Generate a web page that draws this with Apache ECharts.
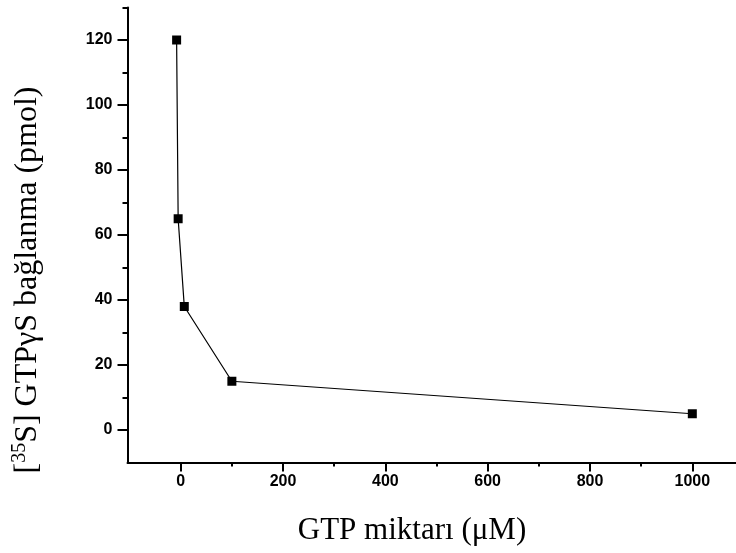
<!DOCTYPE html>
<html>
<head>
<meta charset="utf-8">
<script src="https://cdn.jsdelivr.net/npm/echarts@6/dist/echarts.min.js"></script>
<style>
  html, body { margin: 0; padding: 0; background: #fff; }
  #chart { width: 736px; height: 553px; }
</style>
</head>
<body>
<div id="chart"></div>
<script>
// GTP concentration (µM) and bound [35S]GTPγS (pmol)
const gtpAmount = [-8, -5, 7, 100, 1000];
const binding = [120, 65, 38, 15, 5];

// Labelled (major) and unlabelled (minor) tick positions
const xMajorTicks = [0, 200, 400, 600, 800, 1000];
const xMinorTicks = [100, 300, 500, 700, 900];
const yMajorTicks = [0, 20, 40, 60, 80, 100, 120];
const yMinorTicks = [10, 30, 50, 70, 90, 110, 130];

const xTitle = 'GTP miktarı (μM)';
const yTitleSup = '35';
const yTitleRest = 'S] GTPγS bağlanma (pmol)';

const chart = echarts.init(document.getElementById('chart'), null, { renderer: 'canvas' });

const sansLabel = {
  fontFamily: '"Liberation Sans", Arial, sans-serif',
  fontWeight: 'bold',
  fontSize: 16,
  color: '#000',
  formatter: v => String(v)
};
const serif = '"Liberation Serif", "Times New Roman", serif';

const xRange = { min: -104, max: 1085 };
const yRange = { min: -10, max: 130 };

chart.setOption({
  animation: false,
  backgroundColor: '#fff',
  grid: { left: 127.5, top: 7.5, width: 608.3, height: 455 },
  xAxis: [
    {
      type: 'value', ...xRange,
      axisLine: { show: true, onZero: false, lineStyle: { color: '#000', width: 2 } },
      axisTick: { show: true, inside: false, length: 9, customValues: xMajorTicks, lineStyle: { color: '#000', width: 2 } },
      axisLabel: { show: true, margin: 11, customValues: xMajorTicks, ...sansLabel },
      splitLine: { show: false }
    },
    {
      type: 'value', ...xRange, position: 'bottom',
      axisLine: { show: false, onZero: false },
      axisTick: { show: true, inside: false, length: 4, customValues: xMinorTicks, lineStyle: { color: '#000', width: 2 } },
      axisLabel: { show: false },
      splitLine: { show: false }
    }
  ],
  yAxis: [
    {
      type: 'value', ...yRange,
      axisLine: { show: true, onZero: false, lineStyle: { color: '#000', width: 2 } },
      axisTick: { show: true, inside: false, length: 10, customValues: yMajorTicks, lineStyle: { color: '#000', width: 2 } },
      axisLabel: { show: true, margin: 15, customValues: yMajorTicks, ...sansLabel },
      splitLine: { show: false }
    },
    {
      type: 'value', ...yRange, position: 'left',
      axisLine: { show: false, onZero: false },
      axisTick: { show: true, inside: false, length: 5, customValues: yMinorTicks, lineStyle: { color: '#000', width: 2 } },
      axisLabel: { show: false },
      splitLine: { show: false }
    }
  ],
  series: [
    {
      type: 'line',
      xAxisIndex: 0,
      yAxisIndex: 0,
      data: gtpAmount.map((x, i) => [x, binding[i]]),
      symbol: 'rect',
      symbolSize: 9,
      showSymbol: true,
      lineStyle: { color: '#000', width: 1.2 },
      itemStyle: { color: '#000' }
    }
  ],
  graphic: [
    {
      type: 'text',
      x: 412, y: 531,
      style: {
        text: xTitle,
        fontFamily: serif,
        fontSize: 31,
        fill: '#000',
        align: 'center',
        verticalAlign: 'middle'
      }
    },
    {
      type: 'text',
      x: 28, y: 280,
      rotation: Math.PI / 2,
      style: {
        text: '{b|[}{s|' + yTitleSup + '}{b|' + yTitleRest + '}',
        fontFamily: serif,
        fill: '#000',
        align: 'center',
        verticalAlign: 'middle',
        rich: {
          b: { fontFamily: serif, fontSize: 32, lineHeight: 36, fill: '#000' },
          s: { fontFamily: serif, fontSize: 20, lineHeight: 20, verticalAlign: 'top', fill: '#000' }
        }
      }
    }
  ]
});
</script>
</body>
</html>
